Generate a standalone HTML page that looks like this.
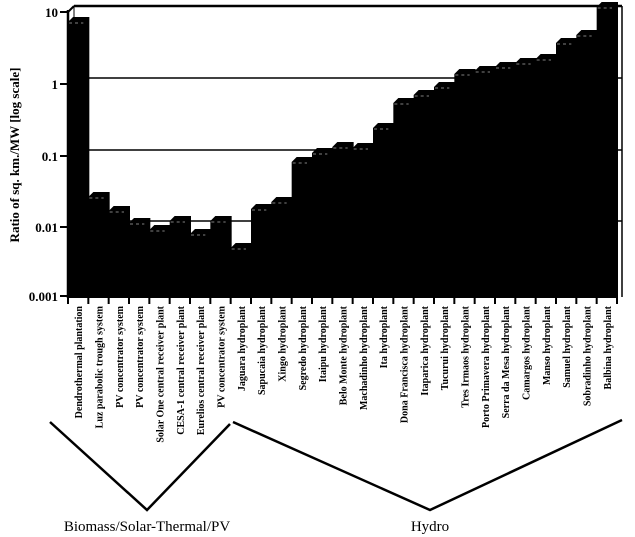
<!DOCTYPE html>
<html><head><meta charset="utf-8"><style>html,body{margin:0;padding:0;background:#fff}svg{display:block}</style></head><body>
<svg width="635" height="537" xmlns="http://www.w3.org/2000/svg" font-family="Liberation Serif, serif">
<rect width="635" height="537" fill="#fff"/>
<line x1="74" y1="6" x2="622" y2="6" stroke="#000" stroke-width="2.5"/>
<line x1="622" y1="6" x2="622" y2="297" stroke="#000" stroke-width="1.5"/>
<line x1="68" y1="12" x2="74" y2="6" stroke="#000" stroke-width="2"/>
<line x1="74" y1="6" x2="74" y2="297" stroke="#000" stroke-width="1"/>
<line x1="74" y1="78" x2="622" y2="78" stroke="#000" stroke-width="1.5"/>
<line x1="74" y1="150" x2="622" y2="150" stroke="#000" stroke-width="1.5"/>
<line x1="74" y1="221" x2="622" y2="221" stroke="#000" stroke-width="1.5"/>
<g id="bars" fill="#000"></g>
<line x1="68" y1="10" x2="68" y2="298" stroke="#000" stroke-width="2.5"/>
<g stroke="#000" stroke-width="2">
<line x1="60" y1="12" x2="68" y2="12"/><line x1="60" y1="84" x2="68" y2="84"/><line x1="60" y1="156" x2="68" y2="156"/><line x1="60" y1="227" x2="68" y2="227"/><line x1="60" y1="296" x2="68" y2="296"/>
</g>
<g font-size="13" font-weight="bold" text-anchor="end">
<text x="58" y="17">10</text><text x="58" y="89">1</text><text x="58" y="161">0.1</text><text x="58" y="232">0.01</text><text x="58" y="301">0.001</text>
</g>
<text transform="translate(19,155) rotate(-90)" text-anchor="middle" font-size="13" font-weight="bold">Ratio of sq. km./MW [log scale]</text>
<g id="ticks" stroke="#000" stroke-width="2"></g>
<g id="labels" font-size="10" font-weight="bold" text-anchor="end"></g>
<polyline points="50,422 147,510 230,424" fill="none" stroke="#000" stroke-width="2.5"/>
<polyline points="233,422 430,510 622,420" fill="none" stroke="#000" stroke-width="2.5"/>
<text x="147" y="531" font-size="15" text-anchor="middle">Biomass/Solar-Thermal/PV</text>
<text x="430" y="531" font-size="15" text-anchor="middle">Hydro</text>
<script>
var tops=[22,197,211,223,230,221,234,221,248,209,202,162,153,147,148,128,103,95,87,74,71,67,63,59,43,35,7];
var names=["Dendrothermal plantation","Luz parabolic trough system","PV concentrator system","PV concentrator system","Solar One central receiver plant","CESA-1 central receiver plant","Eurelios central receiver plant","PV concentrator system","Jaguara hydroplant","Sapucaia hydroplant","Xingo hydroplant","Segredo hydroplant","Itaipu hydroplant","Belo Monte hydroplant","Machadinho hydroplant","Ita hydroplant","Dona Francisca hydroplant","Itaparica hydroplant","Tucurui hydroplant","Tres Irmaos hydroplant","Porto Primavera hydroplant","Serra da Mesa hydroplant","Camargos hydroplant","Manso hydroplant","Samuel hydroplant","Sobradinho hydroplant","Balbina hydroplant"];
var NS="http://www.w3.org/2000/svg",b=document.getElementById("bars"),t=document.getElementById("ticks"),l=document.getElementById("labels");
var w=549/27;
for(var i=0;i<27;i++){
 var x=68+w*i,y=tops[i],x2=x+w;
 var p=document.createElementNS(NS,"polygon");
 p.setAttribute("points",x+",297 "+x+","+y+" "+(x+5)+","+(y-5)+" "+(x2+1)+","+(y-5)+" "+(x2+1)+",297");
 b.appendChild(p);
 var ln=document.createElementNS(NS,"line");
 ln.setAttribute("x1",x+1);ln.setAttribute("x2",x2-5);ln.setAttribute("y1",y+1);ln.setAttribute("y2",y+1);
 ln.setAttribute("stroke","#fff");ln.setAttribute("stroke-width","0.6");ln.setAttribute("stroke-dasharray","3 3");
 b.appendChild(ln);
 var tk=document.createElementNS(NS,"line");
 tk.setAttribute("x1",x);tk.setAttribute("x2",x);tk.setAttribute("y1",297);tk.setAttribute("y2",304);
 t.appendChild(tk);
 var tx=document.createElementNS(NS,"text");
 tx.setAttribute("transform","translate("+(x+w/2+4)+",306) rotate(-90)");
 tx.textContent=names[i];l.appendChild(tx);
}
var tk=document.createElementNS(NS,"line");tk.setAttribute("x1",617);tk.setAttribute("x2",617);tk.setAttribute("y1",297);tk.setAttribute("y2",304);t.appendChild(tk);
var bl=document.createElementNS(NS,"line");bl.setAttribute("x1",68);bl.setAttribute("x2",618);bl.setAttribute("y1",297);bl.setAttribute("y2",297);bl.setAttribute("stroke","#000");bl.setAttribute("stroke-width","2");t.appendChild(bl);
</script>
</svg>
</body></html>
